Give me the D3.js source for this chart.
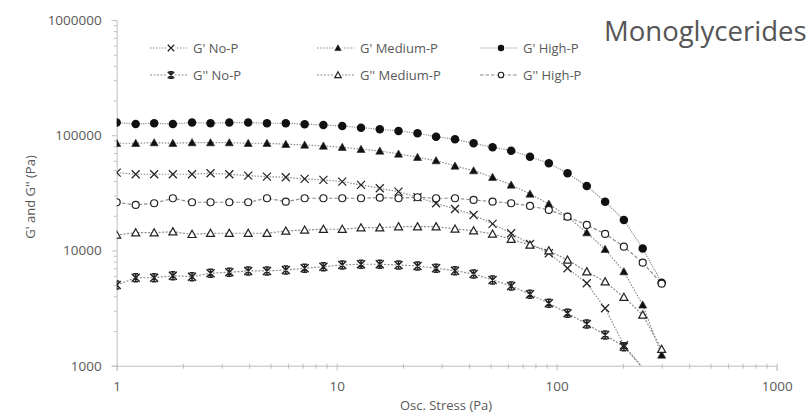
<!DOCTYPE html>
<html>
<head>
<meta charset="utf-8">
<script src="https://cdn.jsdelivr.net/npm/d3@7"></script>
<style>
  body { margin: 0; background: #fff; }
  text { font-family: "Open Sans", "Liberation Sans", sans-serif; }
</style>
</head>
<body>
<div id="chart"></div>
<script>
    // oscillatory stress steps (Pa)
    const stress = [1, 1.22, 1.48, 1.80, 2.20, 2.67, 3.25, 3.96, 4.82, 5.87, 7.15, 8.70, 10.6, 12.9, 15.7,
                    19.1, 23.3, 28.3, 34.5, 41.9, 51.1, 62.1, 75.6, 92.1, 112, 137, 166, 202, 246, 300]

    // moduli (Pa), one value per stress step
    const gpNo = [47350, 45860, 45860, 45860, 45860, 46780, 45860, 44590, 43710, 43190, 41750, 40930, 39560, 37030, 34670,
                  32390, 28960, 25690, 22920, 20330, 16990, 14100, 11390, 9460, 7010, 5190, 3150, 1510, 960]
    const gpMed = [85200, 85200, 86250, 85200, 86250, 86250, 86250, 85200, 85200, 83530, 82380, 80750, 78680, 75590, 73060,
                   68810, 64420, 60190, 54140, 49280, 43190, 37030, 30940, 25320, 19660, 14270, 10240, 6550, 3370, 1240]
    const gpHigh = [128700, 125300, 127100, 125300, 128700, 127100, 128700, 128700, 127100, 127100, 124600, 122900, 120400, 116400, 112700,
                    109000, 104100, 97200, 92300, 85200, 78700, 73500, 65200, 57100, 46800, 36300, 26500, 18400, 10400, 5250]
    const gppNo = [5020, 5800, 5800, 6040, 5920, 6340, 6470, 6640, 6640, 6770, 7010, 7230, 7480, 7590, 7590,
                   7480, 7340, 7010, 6680, 6250, 5550, 4920, 4170, 3480, 2850, 2300, 1850, 1460, 960]
    const gppMed = [13630, 14270, 14270, 14560, 13820, 14100, 14100, 14100, 14100, 14770, 15070, 15280, 15280, 15770, 15770,
                    16090, 16090, 16090, 15370, 14850, 13910, 12510, 11160, 9960, 8270, 6550, 5360, 3930, 2760, 1390]
    const gppHigh = [26200, 24830, 25690, 28390, 26200, 26200, 26200, 26200, 28390, 26520, 28390, 28390, 28390, 28390, 28730,
                     28390, 28960, 28390, 28390, 27440, 26520, 25690, 24340, 22470, 19660, 16650, 13910, 10790, 7840, 5150]

    const seriesNames = ["G' No-P", "G' Medium-P", "G' High-P", "G'' No-P", "G'' Medium-P", "G'' High-P"]
    const xTicks = [1, 10, 100, 1000]
    const yTicks = [1000, 10000, 100000, 1000000]

    const series = [
        { name: seriesNames[0], values: gpNo, marker: "x", dash: "1.5,1.5" },
        { name: seriesNames[1], values: gpMed, marker: "tri", dash: "1.5,1.5" },
        { name: seriesNames[2], values: gpHigh, marker: "dot", dash: "1.2,1.2" },
        { name: seriesNames[3], values: gppNo, marker: "star", dash: "2,1.5" },
        { name: seriesNames[4], values: gppMed, marker: "otri", dash: "2,1.5" },
        { name: seriesNames[5], values: gppHigh, marker: "ocirc", dash: "3.5,2" }
    ]

    var width = 811, height = 414
    // plot box (names kept away from window.top etc.)
    var plotL = 116.7, plotR = 776.7, plotT = 20, plotB = 365.7
    var axisColor = "#bfbfbf", textColor = "#595959", lineColor = "#8c8c8c"

    var x = d3.scaleLog().domain([1, 1000]).range([plotL, plotR])
    var y = d3.scaleLog().domain([1000, 1000000]).range([plotB, plotT])

    var svg = d3.select("#chart").append("svg")
        .attr("width", width)
        .attr("height", height)

    svg.append("clipPath").attr("id", "plot")
        .append("rect")
        .attr("x", plotL).attr("y", plotT - 5)
        .attr("width", plotR - plotL + 5).attr("height", plotB - plotT + 5)

    // minor log ticks 2..9 per decade
    function minors(lo, hi) {
        var out = []
        for (var p = lo; p < hi; p *= 10)
            for (var k = 2; k < 10; k++) out.push(p * k)
        return out
    }

    // y axis
    var gy = svg.append("g").attr("transform", "translate(" + plotL + ",0)")
    gy.call(d3.axisLeft(y).tickValues(yTicks).tickFormat(d3.format("d")).tickSize(5).tickPadding(10))
    gy.append("g").call(d3.axisLeft(y).tickValues(minors(1000, 1000000)).tickFormat("").tickSize(3))
    gy.selectAll(".domain").filter(function (d, i) { return i > 0 }).remove()

    // x axis
    var gx = svg.append("g").attr("transform", "translate(0," + plotB + ")")
    gx.call(d3.axisBottom(x).tickValues(xTicks).tickFormat(d3.format("d")).tickSize(5).tickPadding(11))
    gx.append("g").call(d3.axisBottom(x).tickValues(minors(1, 1000)).tickFormat("").tickSize(3))
    gx.selectAll(".domain").filter(function (d, i) { return i > 0 }).remove()
    gx.selectAll(".tick line").attr("y1", -2)

    svg.selectAll(".domain, .tick line").attr("stroke", axisColor)
    svg.selectAll(".tick text")
        .attr("fill", textColor)
        .style("font-size", "13.5px")
        .style("font-family", "'Open Sans', sans-serif")

    // axis titles
    svg.append("text")
        .attr("x", 446).attr("y", 410)
        .attr("text-anchor", "middle")
        .attr("fill", textColor)
        .style("font-size", "13px")
        .text("Osc. Stress (Pa)")

    svg.append("text")
        .attr("transform", "translate(35,197)rotate(-90)")
        .attr("text-anchor", "middle")
        .attr("fill", textColor)
        .style("font-size", "13px")
        .text("G' and G'' (Pa)")

    // marker drawing
    function drawMarker(g, type, s) {
        var h = s / 2
        if (type == "dot") {
            g.append("circle").attr("r", h).attr("fill", "#111")
        } else if (type == "ocirc") {
            g.append("circle").attr("r", h - 0.5).attr("fill", "#fff").attr("stroke", "#222").attr("stroke-width", 1.2)
        } else if (type == "tri" || type == "otri") {
            g.append("path")
                .attr("d", "M0," + (-h) + "L" + h + "," + (h * 0.8) + "L" + (-h) + "," + (h * 0.8) + "Z")
                .attr("fill", type == "tri" ? "#111" : "#fff")
                .attr("stroke", "#222").attr("stroke-width", type == "tri" ? 0.6 : 1.2)
        } else {
            var d = "M" + (-h) + "," + (-h) + "L" + h + "," + h + "M" + h + "," + (-h) + "L" + (-h) + "," + h
            if (type == "star") d += "M0," + (-h) + "L0," + h + "M" + (-h * 0.6) + "," + (-h) + "L" + (h * 0.6) + "," + (-h) + "M" + (-h * 0.6) + "," + h + "L" + (h * 0.6) + "," + h
            g.append("path").attr("d", d).attr("fill", "none")
                .attr("stroke", "#222").attr("stroke-width", type == "star" ? 1.5 : 1.2)
        }
    }

    var line = d3.line()
        .x(function (d) { return x(d[0]) })
        .y(function (d) { return y(d[1]) })

    var plot = svg.append("g").attr("clip-path", "url(#plot)")

    series.forEach(function (s) {
        var pts = s.values.map(function (v, i) { return [stress[i], v] })
        plot.append("path")
            .datum(pts)
            .attr("d", line)
            .attr("fill", "none")
            .attr("stroke", lineColor)
            .attr("stroke-width", 1.2)
            .attr("stroke-dasharray", s.dash)
    })

    series.forEach(function (s) {
        s.values.forEach(function (v, i) {
            if (v < 1000) return
            var g = plot.append("g").attr("transform", "translate(" + x(stress[i]) + "," + y(v) + ")")
            drawMarker(g, s.marker, s.marker == "dot" ? 8.5 : 8)
        })
    })

    // legend, two rows of three
    var legendCols = [150, 317, 480]
    var legendRows = [48, 75]
    series.forEach(function (s, i) {
        var lx = legendCols[i % 3], ly = legendRows[Math.floor(i / 3)]
        var g = svg.append("g").attr("transform", "translate(" + lx + "," + ly + ")")
        g.append("line")
            .attr("x1", 0).attr("x2", 37)
            .attr("stroke", lineColor).attr("stroke-width", 1.1)
            .attr("stroke-dasharray", s.dash)
        var m = g.append("g").attr("transform", "translate(21,0)")
        m.append("rect").attr("x", -4).attr("y", -4).attr("width", 8).attr("height", 8).attr("fill", "#fff")
        drawMarker(m, s.marker, 6.5)
        g.append("text")
            .attr("x", 43).attr("dy", "0.35em")
            .attr("fill", textColor)
            .style("font-size", "13px")
            .text(s.name)
    })

    svg.append("text")
        .attr("x", 604).attr("y", 41)
        .attr("fill", "#555")
        .style("font-size", "27.5px")
        .text("Monoglycerides")
</script>
</body>
</html>
